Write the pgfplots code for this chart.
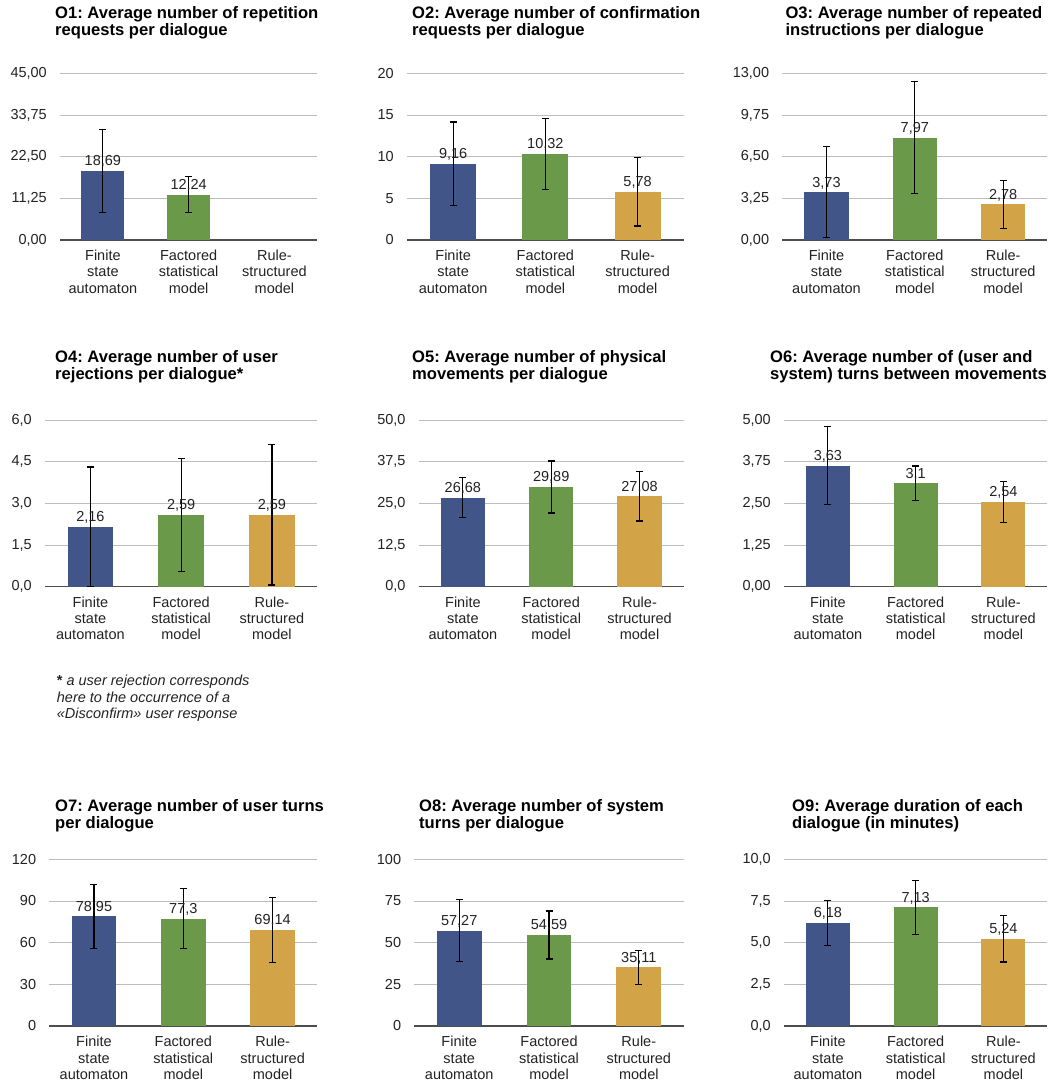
\documentclass[border=0pt]{standalone}
\usepackage{pgfplots}
\pgfplotsset{compat=1.18}
\usepackage{fontspec}
\setmainfont{Liberation Sans}
\frenchspacing
\definecolor{cblue}{HTML}{415588}
\definecolor{cgreen}{HTML}{6A994A}
\definecolor{cgold}{HTML}{D3A447}
\definecolor{gridc}{HTML}{BDBDBD}
\definecolor{basec}{HTML}{4D4D4D}
\definecolor{txt}{HTML}{222222}
\newcommand{\tfont}{\bfseries\fontsize{16.6}{16.6}\selectfont}
\newcommand{\lfont}{\fontsize{14.5}{16.3}\selectfont}
\pgfplotsset{
  panel/.style={
    scale only axis, anchor=south west, height=166.7pt,
    ymin=0, xmin=-0.5, xmax=2.5,
    ybar, bar width=0.5, bar shift=0pt,
    axis x line*=bottom, axis y line*=left,
    y axis line style={draw=none},
    x axis line style={draw=basec, line width=1.4pt, -},
    ymajorgrids, grid style={draw=gridc, line width=0.9pt},
    major tick length=0pt, tick style={draw=none},
    xtick={0,1,2},
    xticklabels={{Finite\\state\\automaton},{Factored\\statistical\\model},{Rule-\\structured\\model}},
    xticklabel style={align=center, anchor=north, inner sep=0pt, yshift=-10pt, font=\lfont, text=txt},
    yticklabel style={anchor=east, inner sep=0pt, xshift=-13pt, font=\lfont, text=txt},
    title style={anchor=north west, at={(axis description cs:0,1)}, align=left, inner sep=0pt, font=\tfont, text=black},
    nodes near coords={\pgfmathprintnumber[fixed,precision=2,use comma,assume math mode=true]{\pgfplotspointmeta}},
    every node near coord/.append style={anchor=south, inner sep=0pt, yshift=3pt, font=\lfont, text=txt},
    error bars/y dir=both, error bars/y explicit,
    error bars/error bar style={line width=1.2pt, black},
    error bars/error mark options={rotate=90, black, mark size=3.5pt, line width=1.2pt},
  },
  prec/.style={yticklabel={\pgfmathprintnumber[fixed,fixed zerofill,precision=#1,use comma,assume math mode=true]{\tick}}},
}
\begin{document}
\begin{tikzpicture}
\path[use as bounding box] (0,0) rectangle (1056pt,1083pt);

% ---------- Row 1 ----------
\begin{axis}[panel, at={(60pt,843pt)}, width=257.3pt, ymax=45, ytick={0,11.25,22.5,33.75,45}, prec=2,
  title={O1: Average number of repetition\\requests per dialogue}, title style={xshift=-5pt, yshift=61pt}]
\addplot[fill=cblue, draw=none] coordinates {(0,18.69) +- (0,11.2)};
\addplot[fill=cgreen, draw=none] coordinates {(1,12.24) +- (0,4.9)};
\end{axis}

\begin{axis}[panel, at={(407pt,843pt)}, width=276.7pt, ymax=20, ytick={0,5,10,15,20}, prec=0,
  title={O2: Average number of confirmation\\requests per dialogue}, title style={xshift=5pt, yshift=61pt}]
\addplot[fill=cblue, draw=none] coordinates {(0,9.16) +- (0,5.0)};
\addplot[fill=cgreen, draw=none] coordinates {(1,10.32) +- (0,4.3)};
\addplot[fill=cgold, draw=none] coordinates {(2,5.78) +- (0,4.1)};
\end{axis}

\begin{axis}[panel, at={(782.3pt,843pt)}, width=265pt, ymax=13, ytick={0,3.25,6.5,9.75,13}, prec=2,
  title={O3: Average number of repeated\\instructions per dialogue}, title style={xshift=3pt, yshift=61pt}]
\addplot[fill=cblue, draw=none] coordinates {(0,3.73) +- (0,3.56)};
\addplot[fill=cgreen, draw=none] coordinates {(1,7.97) +- (0,4.37)};
\addplot[fill=cgold, draw=none] coordinates {(2,2.78) +- (0,1.87)};
\end{axis}

% ---------- Row 2 ----------
\begin{axis}[panel, at={(45pt,496.3pt)}, width=272.3pt, ymax=6, ytick={0,1.5,3,4.5,6}, prec=1,
  title={O4: Average number of user\\rejections per dialogue*}, title style={xshift=10pt, yshift=63.5pt}]
\addplot[fill=cblue, draw=none] coordinates {(0,2.16) +- (0,2.15)};
\addplot[fill=cgreen, draw=none] coordinates {(1,2.59) +- (0,2.03)};
\addplot[fill=cgold, draw=none] coordinates {(2,2.59) +- (0,2.53)};
\end{axis}

\begin{axis}[panel, at={(418.7pt,496.3pt)}, width=265pt, ymax=50, ytick={0,12.5,25,37.5,50}, prec=1,
  title={O5: Average number of physical\\movements per dialogue}, title style={xshift=-6.7pt, yshift=63.5pt}]
\addplot[fill=cblue, draw=none] coordinates {(0,26.68) +- (0,6.0)};
\addplot[fill=cgreen, draw=none] coordinates {(1,29.89) +- (0,7.8)};
\addplot[fill=cgold, draw=none] coordinates {(2,27.08) +- (0,7.4)};
\end{axis}

\begin{axis}[panel, at={(784pt,496.3pt)}, width=263.3pt, ymax=5, ytick={0,1.25,2.5,3.75,5}, prec=2,
  title={O6: Average number of (user and\\system) turns between movements}, title style={xshift=-14pt, yshift=63.5pt}]
\addplot[fill=cblue, draw=none] coordinates {(0,3.63) +- (0,1.17)};
\addplot[fill=cgreen, draw=none] coordinates {(1,3.1) +- (0,0.52)};
\addplot[fill=cgold, draw=none] coordinates {(2,2.54) +- (0,0.62)};
\end{axis}

\node[anchor=north west, align=left, inner sep=0pt, text=txt, font=\itshape\fontsize{14.5}{16.3}\selectfont] at (56.7pt,408pt)
  {{\upshape\bfseries *} a user rejection corresponds\\here to the occurrence of a\\«Disconfirm» user response};

% ---------- Row 3 ----------
\begin{axis}[panel, at={(49.3pt,57pt)}, width=268pt, ymax=120, ytick={0,30,60,90,120}, prec=0,
  title={O7: Average number of user turns\\per dialogue}, title style={xshift=5.7pt, yshift=53.8pt}]
\addplot[fill=cblue, draw=none] coordinates {(0,78.95) +- (0,23.0)};
\addplot[fill=cgreen, draw=none] coordinates {(1,77.3) +- (0,21.6)};
\addplot[fill=cgold, draw=none] coordinates {(2,69.14) +- (0,23.6)};
\end{axis}

\begin{axis}[panel, at={(414.3pt,57pt)}, width=269.4pt, ymax=100, ytick={0,25,50,75,100}, prec=0,
  title={O8: Average number of system\\turns per dialogue}, title style={xshift=4.7pt, yshift=53.8pt}]
\addplot[fill=cblue, draw=none] coordinates {(0,57.27) +- (0,18.8)};
\addplot[fill=cgreen, draw=none] coordinates {(1,54.59) +- (0,14.4)};
\addplot[fill=cgold, draw=none] coordinates {(2,35.11) +- (0,10.2)};
\end{axis}

\begin{axis}[panel, at={(784pt,57pt)}, width=263.3pt, ymax=10, ytick={0,2.5,5,7.5,10}, prec=1,
  title={O9: Average duration of each\\dialogue (in minutes)}, title style={xshift=8pt, yshift=53.8pt}]
\addplot[fill=cblue, draw=none] coordinates {(0,6.18) +- (0,1.35)};
\addplot[fill=cgreen, draw=none] coordinates {(1,7.13) +- (0,1.62)};
\addplot[fill=cgold, draw=none] coordinates {(2,5.24) +- (0,1.4)};
\end{axis}
\end{tikzpicture}
\end{document}
